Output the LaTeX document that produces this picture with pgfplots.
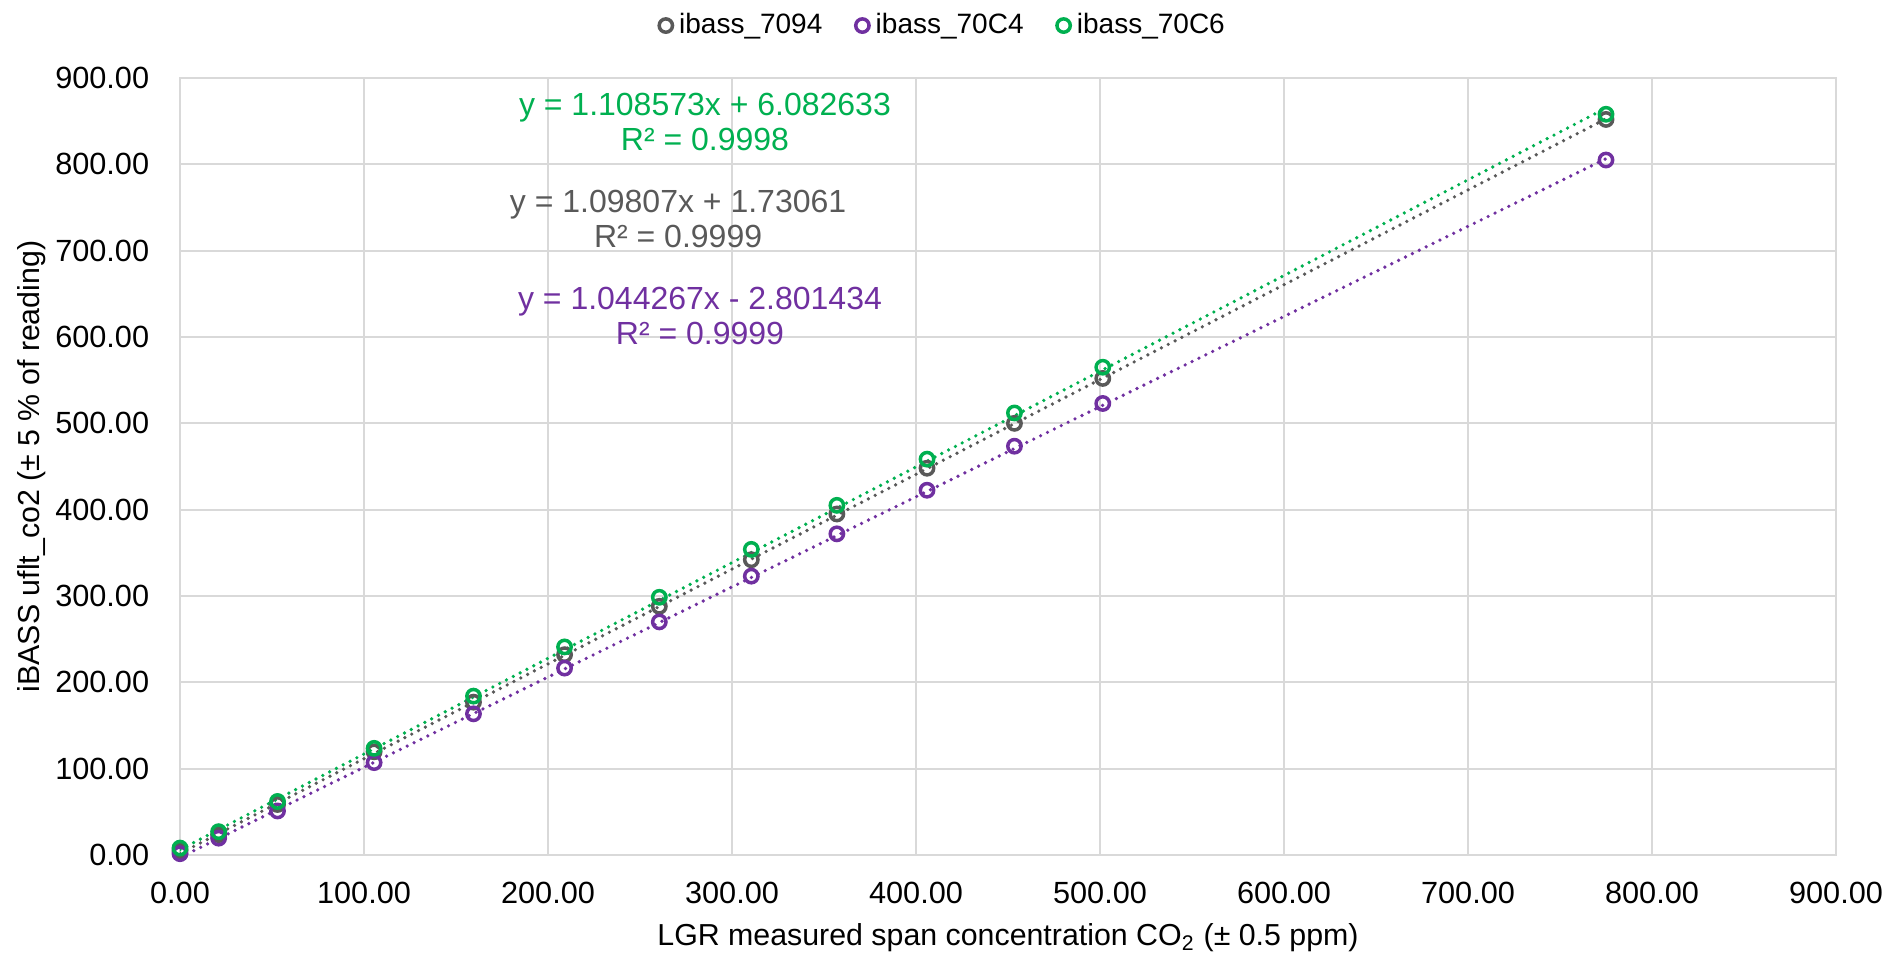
\documentclass[border=0pt]{standalone}
\usepackage{pgfplots}
\pgfplotsset{compat=1.18}
\usepackage{fontspec}
\setmainfont{Liberation Sans}
\definecolor{cgray}{HTML}{595959}
\definecolor{cpurple}{HTML}{7030A0}
\definecolor{cgreen}{HTML}{00B050}
\definecolor{cgrid}{HTML}{D9D9D9}
\begin{document}
\fontsize{9.2}{10.5}\selectfont
\begin{tikzpicture}
\begin{axis}[
  scale only axis,
  width=496.8pt, height=233.1pt,
  xmin=0, xmax=900, ymin=0, ymax=900,
  xtick={0,100,...,900}, ytick={0,100,...,900},
  grid=major,
  major grid style={cgrid, line width=0.6pt},
  axis line style={cgrid, line width=0.6pt},
  tick style={draw=none},
  /pgf/number format/assume math mode=true,
  /pgf/number format/.cd, fixed, fixed zerofill, precision=2, 1000 sep={},
  /pgfplots/.cd,
  ticklabel style={font=\fontsize{9.2}{10.5}\selectfont},
  xticklabel style={yshift=-5pt},
  yticklabel style={xshift=-6pt},
  xlabel={LGR measured span concentration CO\textsubscript{2} (± 0.5 ppm)},
  ylabel={iBASS uflt\_co2 (± 5 \% of reading)},
  label style={font=\fontsize{9.1}{10.5}\selectfont},
  xlabel style={yshift=0.5pt},
  ylabel style={yshift=-3.5pt},
  legend columns=3,
  legend style={at={(0.5,1)}, anchor=south, yshift=7.8pt, xshift=-18.8pt, draw=none, fill=none,
    font=\fontsize{8.4}{10}\selectfont,
    /tikz/every even column/.append style={column sep=8pt}},
  legend image code/.code={\draw[#1] plot coordinates {(0pt,0pt)};},
  legend cell align=left,
]
% trendlines
\addplot[cgray, line width=1.1pt, line cap=round, dash pattern=on 0pt off 2.3pt, forget plot] coordinates {(0,1.73) (775,852.7)};
\addplot[cpurple, line width=1.1pt, line cap=round, dash pattern=on 0pt off 2.3pt, forget plot] coordinates {(0,-2.80) (775,806.5)};
\addplot[cgreen, line width=1.1pt, line cap=round, dash pattern=on 0pt off 2.3pt, forget plot] coordinates {(0,6.08) (775,865.2)};
% data
\addplot[only marks, mark=o, mark size=2.0pt, cgray, mark options={line width=1.05pt}] coordinates {
(0,5) (21,23.5) (53,58.5) (105.5,119.5) (159.5,177) (209,232) (260.5,288) (310.5,342) (357,395) (406,448) (453.5,500) (501.5,552) (775,852)};
\addlegendentry{ibass\_7094}
\addplot[only marks, mark=o, mark size=2.0pt, cpurple, mark options={line width=1.05pt}] coordinates {
(0,1.5) (21,19.5) (53,51) (105.5,107) (159.5,163.5) (209,216.5) (260.5,270) (310.5,323) (357,372) (406,422.5) (453.5,473.5) (501.5,523) (775,805)};
\addlegendentry{ibass\_70C4}
\addplot[only marks, mark=o, mark size=2.0pt, cgreen, mark options={line width=1.05pt}] coordinates {
(0,8) (21,27) (53,62) (105.5,123.5) (159.5,184) (209,241) (260.5,298.5) (310.5,354) (357,405) (406,458.5) (453.5,512) (501.5,565) (775,858)};
\addlegendentry{ibass\_70C6}
% equation labels
\node[cgreen, align=center, font=\fontsize{9.6}{10.5}\selectfont] at (axis cs:285.3,848.5) {y = 1.108573x + 6.082633\\R² = 0.9998};
\node[cgray, align=center, font=\fontsize{9.6}{10.5}\selectfont] at (axis cs:270.7,736.5) {y = 1.09807x + 1.73061\\R² = 0.9999};
\node[cpurple, align=center, font=\fontsize{9.6}{10.5}\selectfont] at (axis cs:282.6,623.8) {y = 1.044267x - 2.801434\\R² = 0.9999};
\end{axis}
\pgfresetboundingbox
\path ([shift={(-54pt,-29.7pt)}]current axis.south west) rectangle ([shift={(16.2pt,23.4pt)}]current axis.north east);
\end{tikzpicture}
\end{document}
